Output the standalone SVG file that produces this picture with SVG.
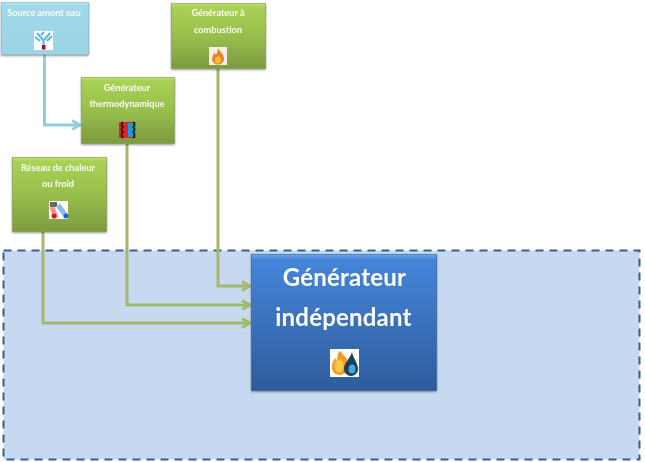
<svg xmlns="http://www.w3.org/2000/svg" width="645" height="462" viewBox="0 0 645 462">
<style>
text{font-family:"Lato","Open Sans","Liberation Sans",sans-serif;fill:#fff;text-anchor:middle}
.s{font-size:9.200px;font-weight:700;fill:#fbfdf5;filter:url(#soft)}
.b{font-size:24px;font-weight:700;letter-spacing:.2px;filter:url(#soft)}
.g{fill:url(#green);stroke:#7f9c40;stroke-width:.6;filter:url(#sh)}
.c{fill:none;stroke-width:3}
.gc{stroke:#a0b96a;marker-end:url(#ag)}
.bc{stroke:#93cddd;marker-end:url(#ab)}
.i{filter:url(#soft)}
</style>
<defs>
<linearGradient id="green" x1="0" y1="0" x2="0" y2="1"><stop offset="0" stop-color="#c4e070"/><stop offset=".05" stop-color="#a9d254"/><stop offset=".5" stop-color="#98bf4d"/><stop offset="1" stop-color="#7d9a3e"/></linearGradient>
<linearGradient id="lb" x1="0" y1="0" x2="0" y2="1"><stop offset="0" stop-color="#b8e6f3"/><stop offset=".06" stop-color="#a0d9ea"/><stop offset="1" stop-color="#9dd4e6"/></linearGradient>
<linearGradient id="blue" x1="0" y1="0" x2="0" y2="1"><stop offset="0" stop-color="#6ba5e8"/><stop offset=".04" stop-color="#4585da"/><stop offset="1" stop-color="#2d5c9c"/></linearGradient>
<filter id="sh" x="-10%" y="-10%" width="120%" height="120%"><feDropShadow dx="0" dy="1" stdDeviation="1.2" flood-color="#000" flood-opacity=".45"/></filter>
<filter id="soft" x="-5%" y="-20%" width="110%" height="140%"><feGaussianBlur stdDeviation=".35"/></filter>
<marker id="ag" markerUnits="userSpaceOnUse" markerWidth="12" markerHeight="12" refX="9" refY="6" orient="auto"><path d="M1 1.500L9 6L1 10.500" fill="none" stroke="#a0b96a" stroke-width="2.800"/></marker>
<marker id="ab" markerUnits="userSpaceOnUse" markerWidth="12" markerHeight="12" refX="9" refY="6" orient="auto"><path d="M1 1.500L9 6L1 10.500" fill="none" stroke="#93cddd" stroke-width="2.800"/></marker>
</defs>
<rect id="zone" x="3.500" y="250.500" width="636" height="209" fill="#c6d9f0" stroke="#376092" stroke-width="2" stroke-dasharray="8 6"/>
<g id="connectors">
<path class="c bc" d="M44.500 55V125H80"/>
<path class="c gc" d="M218 69V286H250"/>
<path class="c gc" d="M127 144V305H250"/>
<path class="c gc" d="M43 231V323H250"/>
</g>
<g id="source-amont-eau">
<rect x="1.500" y="2.500" width="87" height="52" fill="url(#lb)" stroke="#7fb3c4" stroke-width=".6" filter="url(#sh)"/>
<text class="s" x="44" y="16">Source amont eau</text>
<g class="i">
<rect x="34" y="31" width="19" height="19" fill="#fff"/>
<path d="M43.500 46V40M43 40L37 33M44 40L50 33M40 41L35 37M47 41L52 36M41 35L44 32" stroke="#58b4e8" stroke-width="2" fill="none"/>
<rect x="42" y="45" width="3.500" height="4.500" fill="#a01030"/>
</g>
</g>
<g id="generateur-thermodynamique">
<rect class="g" x="81.500" y="77.500" width="93" height="66"/>
<text class="s" x="127" y="91">Générateur</text>
<text class="s" x="127" y="107">thermodynamique</text>
<g class="i">
<rect x="119" y="122" width="17" height="16" fill="#e02020"/>
<rect x="128" y="123" width="8" height="14" fill="#1e9ad6"/>
<path d="M123 122q-3 3 0 5q-3 3 0 5q-3 3 0 6M133 122q3 3 0 5q3 3 0 5q3 3 0 6" stroke="#111" stroke-width="1.500" fill="none"/>
</g>
</g>
<g id="generateur-combustion">
<rect class="g" x="171.500" y="3.500" width="94" height="65"/>
<text class="s" x="218" y="16">Générateur à</text>
<text class="s" x="218" y="33">combustion</text>
<g class="i">
<rect x="209" y="47" width="18" height="18" fill="#f4efe6"/>
<path d="M218 48c2 4 6 6 6 11a6 5.500 0 0 1-12 0c0-3 2-4 2-6c1 1 2 1 2 2c1-2 2-4 2-7z" fill="#ef7d2a"/>
<ellipse cx="218" cy="60" rx="3" ry="3.500" fill="#fcc335"/>
</g>
</g>
<g id="reseau-chaleur-froid">
<rect class="g" x="12.500" y="157.500" width="94" height="74"/>
<text class="s" x="58" y="171">Réseau de chaleur</text>
<text class="s" x="58" y="187">ou froid</text>
<g class="i">
<rect x="49" y="201" width="19" height="18" fill="#fff"/>
<rect x="50" y="202" width="7" height="5" fill="#666"/>
<path d="M52 207L56 218" stroke="#f09090" stroke-width="5"/>
<path d="M58 205L66 216" stroke="#8fb8ee" stroke-width="5"/>
<circle cx="54" cy="216" r="2.500" fill="#e01818"/>
<circle cx="66" cy="216" r="2.500" fill="#2a5fd0"/>
</g>
</g>
<g id="generateur-independant">
<rect x="251.500" y="254.500" width="185" height="136" fill="url(#blue)" stroke="#2f5d96" stroke-width=".6" filter="url(#sh)"/>
<text class="b" x="344.500" y="286">Générateur</text>
<text class="b" x="343.500" y="326">indépendant</text>
<g class="i">
<rect x="330" y="349" width="29" height="28" fill="#fff"/>
<path d="M339 351c3 1 4 3 5 5c2 1 4 3 4 7c2 3 0 11-8 12c-6 0-9-5-8-10c0-3 2-4 3-7c1 1 1 2 2 2c0-3 1-6 2-9z" fill="#f59a23"/>
<ellipse cx="339" cy="366" rx="4.500" ry="6.500" fill="#fcc84a"/>
<path d="M352 352c1 6 6 11 6 17a6.500 6.500 0 0 1-14 0c0-6 6-10 8-17z" fill="#143f5c"/>
<ellipse cx="352" cy="369" rx="3.500" ry="4.500" fill="#3fa8d8"/>
</g>
</g>
</svg>
